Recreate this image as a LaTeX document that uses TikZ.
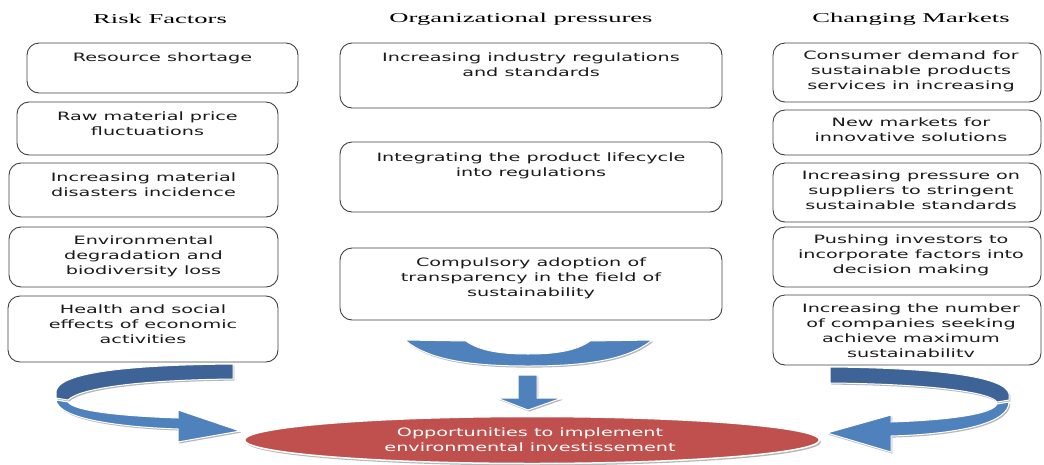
\documentclass[tikz,border=0pt]{standalone}
\usepackage{fontspec}
\usetikzlibrary{shapes.geometric}
\newfontfamily\boxfont[FakeStretch=1.67]{DejaVu Sans}
\newfontfamily\headfont[FakeStretch=1.97]{Liberation Serif}
\definecolor{darkblue}{HTML}{3E6497}
\definecolor{lightblue}{HTML}{4F81BD}
\definecolor{ellred}{HTML}{C0504D}
\definecolor{boxline}{HTML}{404040}
\definecolor{shade}{HTML}{A5A5A5}
\definecolor{txtcol}{HTML}{1A1A1A}
\begin{document}
\begin{tikzpicture}[x=1pt,y=-1pt,
  rbox/.style={draw=boxline, line width=0.9pt, rounded corners=12pt, inner sep=0pt},
  txt/.style={anchor=north, inner sep=0pt, align=center, text=txtcol,
    font={\boxfont\fontsize{11.5}{15}\selectfont}},
  head/.style={inner sep=0pt, text=black, font={\headfont\fontsize{13.5}{16}\selectfont}},
  arr/.style={fill=#1, draw=white, line width=1pt,
    preaction={fill=shade!80, transform canvas={xshift=1.3pt, yshift=-1.6pt}}}
]
\useasboundingbox (0,0) rectangle (1044,464);

% headings
\node[head] (h1) at (160,19) {Risk Factors};
\node[head] (h2) at (521,19) {Organizational pressures};
\node[head] (h3) at (911,19) {Changing Markets};

% left column
\node[rbox, minimum width=271pt, minimum height=50pt] (l1) at (162.5,68) {};
\node[rbox, minimum width=261pt, minimum height=53pt] (l2) at (147.5,128.5) {};
\node[rbox, minimum width=269pt, minimum height=54pt] (l3) at (143.5,190) {};
\node[rbox, minimum width=269pt, minimum height=60pt] (l4) at (143.5,257) {};
\node[rbox, minimum width=270pt, minimum height=66pt] (l5) at (143,329) {};
\node[txt] (tl1) at ([yshift=-10pt]l1.north) {Resource shortage};
\node[txt] (tl2) at ([yshift=-10pt]l2.north) {Raw material price\\fluctuations};
\node[txt] (tl3) at ([yshift=-10pt]l3.north) {Increasing material\\disasters incidence};
\node[txt] (tl4) at ([yshift=-9pt]l4.north) {Environmental\\degradation and\\biodiversity loss};
\node[txt] (tl5) at ([yshift=-9pt]l5.north) {Health and social\\effects of economic\\activities};

% middle column
\node[rbox, minimum width=382pt, minimum height=65pt] (m1) at (531,75.5) {};
\node[rbox, minimum width=382pt, minimum height=70pt] (m2) at (531,177) {};
\node[rbox, minimum width=382pt, minimum height=72pt] (m3) at (531,284) {};
\node[txt] (tm1) at ([yshift=-10pt]m1.north) {Increasing industry regulations\\and standards};
\node[txt] (tm2) at ([yshift=-11pt]m2.north) {Integrating the product lifecycle\\into regulations};
\node[txt] (tm3) at ([yshift=-10pt]m3.north) {Compulsory adoption of\\transparency in the field of\\sustainability};

% right column
\node[rbox, minimum width=268pt, minimum height=59pt] (r1) at (907,72.5) {};
\node[rbox, minimum width=268pt, minimum height=45pt] (r2) at (907,132.5) {};
\node[rbox, minimum width=268pt, minimum height=59pt] (r3) at (907,192.5) {};
\node[rbox, minimum width=268pt, minimum height=60pt] (r4) at (907,257) {};
\node[rbox, minimum width=268pt, minimum height=70pt] (r5) at (907,330) {};
\node[txt] (tr1) at ([xshift=4pt,yshift=-8pt]r1.north) {Consumer demand for\\sustainable products\\services in increasing};
\node[txt] (tr2) at ([xshift=4pt,yshift=-8pt]r2.north) {New markets for\\innovative solutions};
\node[txt] (tr3) at ([xshift=4pt,yshift=-8pt]r3.north) {Increasing pressure on\\suppliers to stringent\\sustainable standards};
\node[txt] (tr4) at ([xshift=4pt,yshift=-8pt]r4.north) {Pushing investors to\\incorporate factors into\\decision making};
\node[txt] (tr5) at ([xshift=4pt,yshift=-9pt]r5.north) {Increasing the number\\of companies seeking\\achieve maximum\\sustainabilitv};

% left curved arrow
\path[arr=darkblue] (233,364) .. controls (130,365) and (60,372) .. (56,391)
  -- (56,398) -- (68,400) .. controls (80,388) and (140,380) .. (233,379) -- cycle;
\path[arr=lightblue] (56,400) .. controls (58,419) and (120,427) .. (178,429)
  -- (178,442) -- (240,431) -- (178,410) -- (178,418)
  .. controls (120,416) and (74,411) .. (68,402) -- cycle;

% right curved arrow
\path[arr=darkblue] (830,367) .. controls (940,368) and (1006,377) .. (1009,394)
  -- (1009,400) -- (997,402) .. controls (990,392) and (930,384) .. (830,383) -- cycle;
\path[arr=lightblue] (1009,402) .. controls (1009,423) and (960,434) .. (891,436)
  -- (891,452) -- (827,433) -- (891,415) -- (891,422)
  .. controls (950,420) and (993,414) .. (997,404) -- cycle;

% middle arc and down arrow
\path[arr=lightblue] (405,340) .. controls (430,362) and (480,366) .. (528,366)
  .. controls (576,366) and (626,362) .. (652,340)
  -- (590,341) .. controls (575,352) and (550,354) .. (528,354)
  .. controls (506,354) and (481,352) .. (466,341) -- cycle;
\path[arr=lightblue] (518,375) -- (537,375) -- (537,398) -- (562,398) -- (528,410)
  -- (497,398) -- (518,398) -- cycle;

% goal ellipse
\node[ellipse, fill=ellred, draw=white, line width=1.5pt, minimum width=575pt, minimum height=47pt,
  inner sep=0pt, preaction={fill=shade!80, transform canvas={xshift=1.5pt, yshift=-2pt}}] (goal) at (532,440) {};
\node[txt, anchor=center, text=white] (tgoal) at (530,440) {Opportunities to implement\\environmental investissement};
\end{tikzpicture}
\end{document}
